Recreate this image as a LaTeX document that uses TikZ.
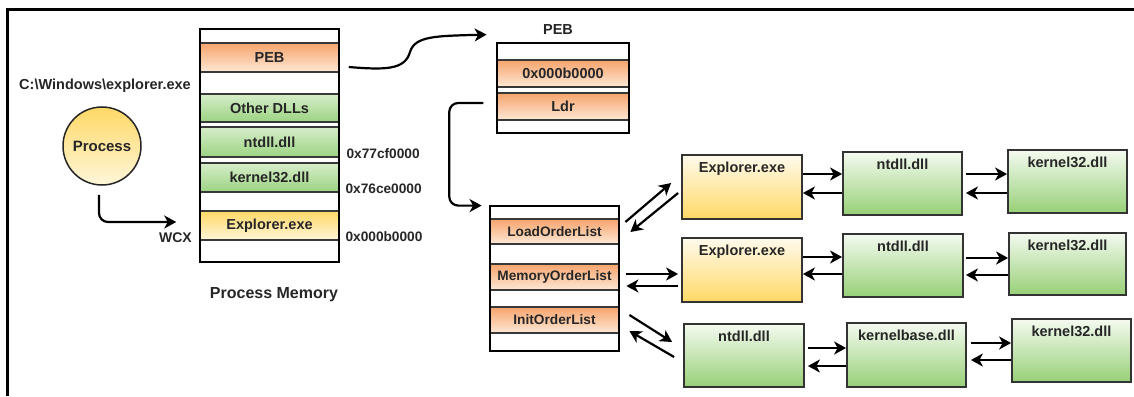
\documentclass[tikz,border=0pt]{standalone}
\usepackage{fontspec}
\setmainfont{Liberation Sans}
\usetikzlibrary{arrows.meta,calc}
\definecolor{txt}{HTML}{262626}
\definecolor{orT}{HTML}{F6A46C}
\definecolor{orB}{HTML}{FEE8D6}
\definecolor{grT}{HTML}{D6EDCA}
\definecolor{grB}{HTML}{9CD382}
\definecolor{gbT}{HTML}{F4FAF0}
\definecolor{gbB}{HTML}{97D077}
\definecolor{ylT}{HTML}{FFD866}
\definecolor{ylB}{HTML}{FFF6DA}
\definecolor{ybT}{HTML}{FFFAEC}
\definecolor{ybB}{HTML}{FFD966}
\definecolor{rowline}{HTML}{383838}
\tikzset{
  T/.style={font=\bfseries\fontsize{14.5}{17}\selectfont, text=txt},
  Ts/.style={font=\bfseries\fontsize{13.7}{16}\selectfont, text=txt},
  row/.style={draw=rowline, line width=1.5pt, rectangle, inner sep=0pt, T},
  orrow/.style={row, top color=orT, bottom color=orB},
  grrow/.style={row, top color=grT, bottom color=grB},
  ylrow/.style={row, top color=ylT, bottom color=ylB},
  outer/.style={draw=black, line width=2.8pt, rectangle, inner sep=0pt},
  rbox/.style={draw=black!80, line width=1.8pt, rectangle, inner sep=0pt, minimum width=119pt, minimum height=63pt},
  gbox/.style={rbox, top color=gbT, bottom color=gbB},
  ybox/.style={rbox, top color=ybT, bottom color=ybB},
  lab/.style={anchor=north, inner sep=0pt, yshift=-8pt, T},
  arr/.style={line width=2.2pt, draw=black, -{Stealth[length=12pt,width=13pt,inset=3.5pt]}},
}
\begin{document}
\begin{tikzpicture}[x=1pt,y=-1pt]
\useasboundingbox (0,0) rectangle (1134,396);
% frame
\draw[line width=3pt] (6,9.5) -- (1134,9.5);
\draw[line width=3pt] (7.5,8) -- (7.5,396);

% ---------- process ----------
\node[T] (path) at (105,86) {C:\textbackslash Windows\textbackslash explorer.exe};
\node[circle, draw=black!85, line width=1.5pt, minimum size=78pt, inner sep=0pt,
      top color=ylT, bottom color=ylB, T, font=\bfseries\fontsize{15}{17}\selectfont] (proc) at (102,146) {Process};

% ---------- process memory ----------
\node[orrow, minimum width=139pt, minimum height=29pt] (pebrow) at (269.5,57.5) {PEB};
\node[grrow, minimum width=139pt, minimum height=28pt] (othrow) at (269.5,108) {Other DLLs};
\node[grrow, minimum width=139pt, minimum height=30pt] (ntrow) at (269.5,142) {ntdll.dll};
\node[grrow, minimum width=139pt, minimum height=29pt] (k32row) at (269.5,177.5) {kernel32.dll};
\node[ylrow, minimum width=139pt, minimum height=29pt] (exprow) at (269.5,225.5) {Explorer.exe};
\node[outer, minimum width=139pt, minimum height=233pt] (mem) at (269.5,145.5) {};
\node[T, font=\bfseries\fontsize{16}{19}\selectfont] (memlab) at (274,295) {Process Memory};
\node[Ts, anchor=west] (a1) at (343,154) {0x77cf0000};
\node[Ts, anchor=west] (a2) at (342,189) {0x76ce0000};
\node[Ts, anchor=west] (a3) at (342,237) {0x000b0000};
\node[T, font=\bfseries\fontsize{14}{17}\selectfont] (wcx) at (175.5,237.5) {WCX};

% ---------- PEB ----------
\node[T] (peblab) at (558,30) {PEB};
\node[orrow, minimum width=132pt, minimum height=27pt] (addrrow) at (563,73.5) {0x000b0000};
\node[orrow, minimum width=132pt, minimum height=27pt] (ldrrow) at (563,106.5) {Ldr};
\node[outer, minimum width=132pt, minimum height=90pt] (pebbox) at (563,88) {};

% ---------- Ldr lists ----------
\node[orrow, minimum width=129pt, minimum height=25pt, Ts] (loadrow) at (554.5,231.5) {LoadOrderList};
\node[orrow, minimum width=129pt, minimum height=26pt, Ts] (memrow) at (554.5,277) {MemoryOrderList};
\node[orrow, minimum width=129pt, minimum height=26pt, Ts] (initrow) at (554.5,320) {InitOrderList};
\node[outer, minimum width=129pt, minimum height=145pt] (list) at (554.5,278.5) {};

% ---------- module chains ----------
\node[ybox, minimum width=120pt, minimum height=64pt, label={[lab]north:Explorer.exe}] (r1e) at (742,187) {};
\node[gbox, label={[lab]north:ntdll.dll}] (r1n) at (902.5,183.5) {};
\node[gbox, label={[lab]north:kernel32.dll}] (r1k) at (1067.5,181.5) {};

\node[ybox, minimum width=120pt, minimum height=64pt, label={[lab]north:Explorer.exe}] (r2e) at (742,270) {};
\node[gbox, minimum width=120pt, label={[lab]north:ntdll.dll}] (r2n) at (903,265.5) {};
\node[gbox, minimum width=117pt, minimum height=62pt, label={[lab]north:kernel32.dll}] (r2k) at (1067.5,264) {};

\node[gbox, minimum width=120pt, label={[lab]north:ntdll.dll}] (r3n) at (744,355.5) {};
\node[gbox, minimum height=64pt, label={[lab]north:kernelbase.dll}] (r3b) at (906.5,355) {};
\node[gbox, label={[lab]north:kernel32.dll}] (r3k) at (1071.5,350.5) {};

% ---------- connectors ----------
\draw[arr, rounded corners=9pt] ($(proc.south)+(-3,9)$) |- ($(exprow.west)+(-23,-3.5)$);
\draw[arr] ($(pebrow.east)+(9,9.5)$) .. controls (385,70) and (405,70) .. (410,52)
   .. controls (415,36) and (435,36) .. ($(pebbox.north west)+(-9,-7)$);
\draw[arr, rounded corners=9pt] ($(ldrrow.west)+(-13,-3.5)$) -- ++(-34,0) |- ($(list.north west)+(-7,1)$);

\draw[arr] ($(list.east)+(5,-56.5)$) -- ($(r1e.west)+(-10,-4)$);
\draw[arr] ($(r1e.west)+(-3,6)$) -- ($(list.east)+(10,-46.5)$);
\draw[arr] ($(list.east)+(6,-4.5)$) -- ($(r2e.west)+(-3,4)$);
\draw[arr] ($(r2e.west)+(-3,16)$) -- ($(list.east)+(6,7.5)$);
\draw[arr] ($(list.east)+(9,36.5)$) -- ($(r3n.west)+(-11,-13.5)$);
\draw[arr] ($(r3n.west)+(-9,1.5)$) -- ($(list.east)+(9,52.5)$);

\draw[arr] (r1e.east |- 0,174) -- (r1n.west |- 0,174);
\draw[arr] (r1n.west |- 0,193) -- (r1e.east |- 0,193);
\draw[arr] ([xshift=3pt]r1n.east |- 0,174) -- (r1k.west |- 0,174);
\draw[arr] (r1k.west |- 0,193) -- ([xshift=3pt]r1n.east |- 0,193);

\draw[arr] (r2e.east |- 0,257) -- (r2n.west |- 0,257);
\draw[arr] (r2n.west |- 0,274) -- (r2e.east |- 0,274);
\draw[arr] ([xshift=2pt]r2n.east |- 0,258) -- (r2k.west |- 0,258);
\draw[arr] (r2k.west |- 0,275) -- ([xshift=2pt]r2n.east |- 0,275);

\draw[arr] ([xshift=3pt]r3n.east |- 0,348) -- (r3b.west |- 0,348);
\draw[arr] (r3b.west |- 0,366) -- ([xshift=3pt]r3n.east |- 0,366);
\draw[arr] ([xshift=4pt]r3b.east |- 0,343) -- (r3k.west |- 0,343);
\draw[arr] (r3k.west |- 0,360) -- ([xshift=4pt]r3b.east |- 0,360);
\end{tikzpicture}
\end{document}
